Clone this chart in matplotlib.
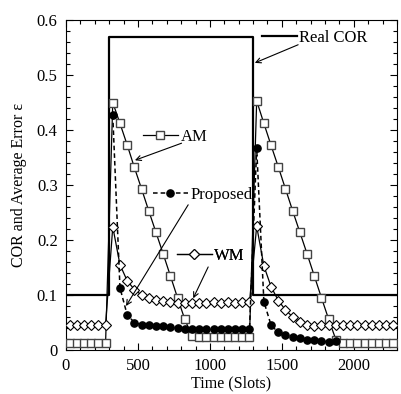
import matplotlib
matplotlib.use("Agg")
import matplotlib.pyplot as plt
import numpy as np
from matplotlib.ticker import MultipleLocator

plt.rcParams['font.family'] = ['Liberation Serif', 'DejaVu Serif']
plt.rcParams['mathtext.fontset'] = 'stix'

# Real COR step profile
cor_x = [0, 300, 300, 1300, 1300, 2300]
cor_y = [0.1, 0.1, 0.57, 0.57, 0.1, 0.1]

slots = [25 + 50 * k for k in range(46)]

am = [0.013, 0.013, 0.013, 0.013, 0.013, 0.013,
      0.450, 0.412, 0.373, 0.332, 0.293, 0.253, 0.214, 0.175, 0.135, 0.095, 0.056, 0.026,
      0.024, 0.024, 0.024, 0.024, 0.024, 0.024, 0.024, 0.024,
      0.453, 0.412, 0.372, 0.333, 0.293, 0.253, 0.214, 0.175, 0.135, 0.095, 0.056, 0.019,
      0.013, 0.013, 0.013, 0.013, 0.013, 0.013, 0.013, 0.013]

wm = [0.046, 0.046, 0.046, 0.046, 0.046, 0.046,
      0.224, 0.155, 0.126, 0.110, 0.100, 0.094, 0.091, 0.089, 0.087, 0.086, 0.085, 0.085,
      0.086, 0.086, 0.087, 0.086, 0.087, 0.086, 0.087, 0.087,
      0.225, 0.153, 0.115, 0.090, 0.073, 0.060, 0.051, 0.046, 0.044, 0.045, 0.046, 0.046,
      0.046, 0.046, 0.046, 0.046, 0.046, 0.046, 0.046, 0.046]

prop_x = slots[6:38]
proposed = [0.427, 0.113, 0.064, 0.050, 0.046, 0.045, 0.044, 0.043, 0.041, 0.040, 0.039, 0.039,
            0.038, 0.038, 0.038, 0.038, 0.038, 0.038, 0.038, 0.038,
            0.367, 0.088, 0.045, 0.032, 0.027, 0.024, 0.022, 0.019, 0.018, 0.016, 0.015, 0.016]

fig = plt.figure(figsize=(4.01, 3.94), dpi=100)
ax = fig.add_axes([66 / 401, 1 - 350 / 394, (397 - 66) / 401, (350 - 20) / 394])

sq = dict(marker='s', ms=5.4, mfc='white', mec='#444444', mew=1.0)
dm = dict(marker='D', ms=5.0, mfc='white', mec='black', mew=0.8)
ci = dict(marker='o', ms=5.2, mfc='black', mec='black')

ax.plot(cor_x, cor_y, color='black', lw=1.6, zorder=2)
ax.plot(slots, am, color='black', lw=0.9, zorder=3, **sq)
ax.plot(slots, wm, color='black', lw=0.9, zorder=3, **dm)
ax.plot(prop_x, proposed, color='black', lw=1.1, ls=(0, (3, 2)), zorder=4, **ci)

ax.set_xlim(0, 2300)
ax.set_ylim(0, 0.6)
ax.xaxis.set_minor_locator(MultipleLocator(100))
ax.yaxis.set_minor_locator(MultipleLocator(0.02))
ax.set_yticks([0, 0.1, 0.2, 0.3, 0.4, 0.5, 0.6])
ax.set_yticklabels(['0', '0.1', '0.2', '0.3', '0.4', '0.5', '0.6'])
ax.set_xticks([0, 500, 1000, 1500, 2000])
ax.set_xticklabels(['0', '500', '1000', '1500', '2000'])
ax.tick_params(which='both', direction='in', top=True, right=True, labelsize=12, width=0.8)
ax.tick_params(which='major', length=5, pad=6)
ax.tick_params(which='minor', length=3)
for s in ax.spines.values():
    s.set_linewidth(0.8)

ax.set_xlabel('Time (Slots)', fontsize=11.5, labelpad=1)
ax.set_ylabel('COR and Average Error ε', fontsize=11.5, labelpad=7)

# legend-like keys placed next to the curves
def key(handle_kw, label, xy):
    h, = ax.plot([], [], **handle_kw)
    leg = ax.legend([h], [label], loc='center left', bbox_to_anchor=xy,
                    bbox_transform=ax.transData, frameon=False, borderpad=0,
                    borderaxespad=0, handlelength=2.1, handletextpad=0.15,
                    numpoints=1, fontsize=12)
    ax.add_artist(leg)

key(dict(color='black', lw=1.6), 'Real COR', (1361, 0.568))
key(dict(color='black', lw=0.9, **sq), 'AM', (535, 0.387))
key(dict(color='black', lw=1.1, ls=(0, (3, 2)), **ci), 'Proposed', (604, 0.282))
key(dict(color='black', lw=0.9, **dm), 'WM', (771, 0.171))

arrow = dict(arrowstyle='->', color='black', lw=0.8, mutation_scale=9, shrinkA=0, shrinkB=0)
ax.annotate('', xy=(1312, 0.522), xytext=(1613, 0.555), arrowprops=arrow)
ax.annotate('', xy=(479, 0.345), xytext=(803, 0.376), arrowprops=arrow)
ax.annotate('', xy=(417, 0.080), xytext=(849, 0.264), arrowprops=arrow)
ax.annotate('', xy=(884, 0.094), xytext=(988, 0.151), arrowprops=arrow)

fig.savefig('out.png', dpi=100)
